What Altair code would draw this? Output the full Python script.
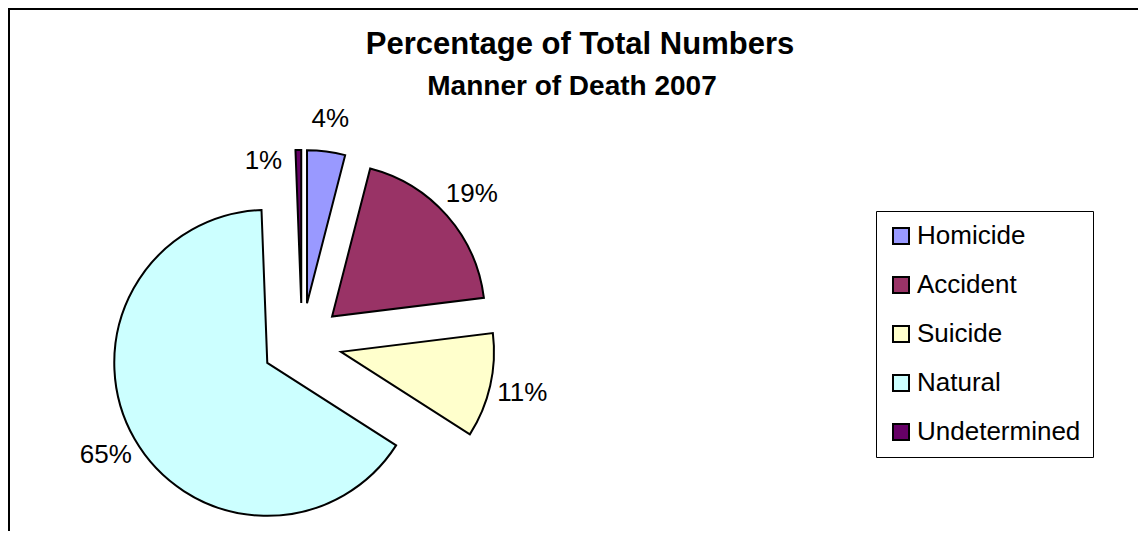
import altair as alt
import pandas as pd

# ---- data ----
categories = ["Homicide", "Accident", "Suicide", "Natural", "Undetermined"]
values = [4.0, 19.0, 11.0, 65.2, 0.6]
colors = ["#9999FF", "#993366", "#FFFFCC", "#CCFFFF", "#660066"]
title_text = ["Percentage of Total Numbers"]
subtitle_text = ["Manner of Death 2007"]

# ---- layout ----
W, H = 1130, 523
CX, CY = 294, 335
RADIUS = 153
EXPLODE = 40
LABEL_R = 226
FONT = "Liberation Sans"

df = pd.DataFrame({"category": categories, "value": values,
                   "order": list(range(len(categories)))})

base = (
    alt.Chart(df)
    .transform_joinaggregate(total="sum(value)")
    .transform_window(cum="sum(value)", sort=[alt.SortField("order")], frame=[None, 0])
    .transform_calculate(
        t1="2*PI*datum.cum/datum.total",
        t0="2*PI*(datum.cum-datum.value)/datum.total",
        frac="datum.value/datum.total",
    )
    .transform_calculate(mid="(datum.t0+datum.t1)/2")
    .transform_calculate(
        cx=f"{CX}+{EXPLODE}*sin(datum.mid)",
        cy=f"{CY}-{EXPLODE}*cos(datum.mid)",
        la="datum.mid - (datum.frac < 0.02 ? 0.19 : 0)",
        lr=f"datum.frac < 0.02 ? 186 : {LABEL_R}",
        label="format(datum.frac, '.0%')",
    )
    .transform_calculate(
        lx=f"{CX}+datum.lr*sin(datum.la)",
        ly=f"{CY}-datum.lr*cos(datum.la)",
    )
)

arcs = base.mark_arc(radius=RADIUS, stroke="black", strokeWidth=2, strokeJoin="miter").encode(
    theta=alt.Theta("t0:Q", scale=None, stack=None),
    theta2=alt.Theta2("t1:Q"),
    x=alt.X("cx:Q", scale=None, axis=None),
    y=alt.Y("cy:Q", scale=None, axis=None),
    color=alt.Color(
        "category:N",
        scale=alt.Scale(domain=categories, range=colors),
        legend=alt.Legend(
            orient="none", legendX=868, legendY=203, title=None,
            symbolType="square", symbolSize=256, symbolStrokeColor="black",
            symbolStrokeWidth=2, symbolOpacity=1,
            labelFont=FONT, labelFontSize=26, labelColor="black", labelLimit=300,
            labelOffset=3, rowPadding=23, padding=12,
            strokeColor="black", fillColor="white",
        ),
    ),
)

labels = base.mark_text(font=FONT, fontSize=26, color="black").encode(
    x=alt.X("lx:Q", scale=None, axis=None),
    y=alt.Y("ly:Q", scale=None, axis=None),
    text="label:N",
)

title = alt.Chart(pd.DataFrame({"t": title_text})).mark_text(
    font=FONT, fontSize=31, fontWeight="bold", color="black", baseline="alphabetic"
).encode(x=alt.value(572), y=alt.value(46), text="t:N")

subtitle = alt.Chart(pd.DataFrame({"t": subtitle_text})).mark_text(
    font=FONT, fontSize=28, fontWeight="bold", color="black", baseline="alphabetic"
).encode(x=alt.value(564), y=alt.value(87), text="t:N")

frame_top = alt.Chart(pd.DataFrame({"a": [0]})).mark_rule(color="black", strokeWidth=2).encode(
    x=alt.value(0), x2=alt.value(W), y=alt.value(1))
frame_left = alt.Chart(pd.DataFrame({"a": [0]})).mark_rule(color="black", strokeWidth=2).encode(
    x=alt.value(1), y=alt.value(0), y2=alt.value(H))

chart = (
    alt.layer(frame_top, frame_left, arcs, labels, title, subtitle)
    .properties(width=W, height=H, padding=0, autosize="none", background="white")
    .configure_view(stroke=None)
)

chart.save("out.html", embed_options={"renderer": "svg", "actions": False})
